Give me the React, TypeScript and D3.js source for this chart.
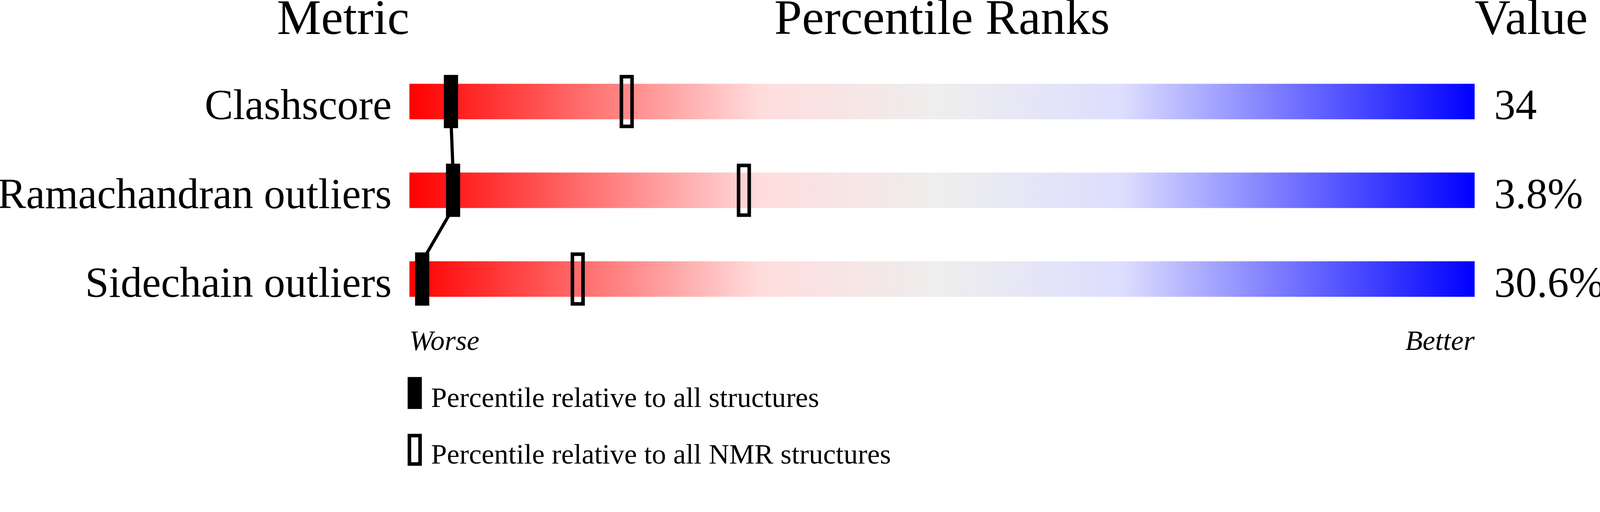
import React, { useEffect, useRef } from 'react';
import * as d3 from 'd3';

const metrics = ['Clashscore', 'Ramachandran outliers', 'Sidechain outliers'];
const percentileAll = [3.9, 4.1, 1.2];
const percentileNMR = [20.4, 31.4, 15.8];
const valueLabels = ['34', '3.8%', '30.6%'];

const legendLabels = [
  'Percentile relative to all structures',
  'Percentile relative to all NMR structures',
];

const gradientStops = [
  { offset: 0, color: '#ff0000' },
  { offset: 0.33, color: '#ffdddd' },
  { offset: 0.5, color: '#eeeeee' },
  { offset: 0.67, color: '#ddddff' },
  { offset: 1, color: '#0000ff' },
];

const WIDTH = 4506;
const HEIGHT = 1311;
const FONT = '"Liberation Serif", "Times New Roman", Times, serif';

const PercentileSlider: React.FC = () => {
  const svgRef = useRef<SVGSVGElement | null>(null);

  useEffect(() => {
    const svg = d3.select(svgRef.current);
    svg.selectAll('*').remove();

    const x = d3.scaleLinear().domain([0, 100]).range([1153, 4153]);
    const y = d3.scalePoint<string>().domain(metrics).range([286, 786]);

    const barH = 100;
    const markW = 40;
    const markH = 150;
    const stroke = 10;

    // gradient for bars
    const grad = svg.append('defs')
      .append('linearGradient')
      .attr('id', 'rank-grad')
      .attr('x1', '0').attr('x2', '1')
      .attr('y1', '0').attr('y2', '0');
    grad.selectAll('stop')
      .data(gradientStops)
      .join('stop')
      .attr('offset', d => d.offset)
      .attr('stop-color', d => d.color);

    const g = svg.append('g').style('font-family', FONT).attr('fill', '#000');

    // Column headers
    g.append('text')
      .attr('x', x(0)).attr('y', 96)
      .attr('text-anchor', 'end')
      .style('font-size', '140px')
      .text('Metric');
    g.append('text')
      .attr('x', (x(0) + x(100)) / 2).attr('y', 96)
      .attr('text-anchor', 'middle')
      .style('font-size', '140px')
      .text('Percentile Ranks');
    g.append('text')
      .attr('x', x(100)).attr('y', 96)
      .attr('text-anchor', 'start')
      .style('font-size', '140px')
      .text('Value');

    // Bars
    g.selectAll('.bar')
      .data(metrics)
      .join('rect')
      .attr('class', 'bar')
      .attr('x', x(0))
      .attr('y', d => y(d)! - barH / 2)
      .attr('width', x(100) - x(0))
      .attr('height', barH)
      .attr('fill', 'url(#rank-grad)');

    // Metric labels
    g.selectAll('.label')
      .data(metrics)
      .join('text')
      .attr('class', 'label')
      .attr('x', x(0) - 50)
      .attr('y', d => y(d)! + barH / 2)
      .attr('text-anchor', 'end')
      .style('font-size', '120px')
      .text(d => d);

    // Values
    g.selectAll('.value')
      .data(valueLabels)
      .join('text')
      .attr('class', 'value')
      .attr('x', x(100) + 55)
      .attr('y', (d, i) => y(metrics[i])! + barH / 2)
      .attr('text-anchor', 'start')
      .style('font-size', '120px')
      .text(d => d);

    // connecting line between "all structures" markers
    const links = d3.pairs(metrics.map((m, i) => ({ m, p: percentileAll[i] })));
    g.selectAll('.link')
      .data(links)
      .join('line')
      .attr('class', 'link')
      .attr('x1', d => x(d[0].p))
      .attr('y1', d => y(d[0].m)! + barH / 2)
      .attr('x2', d => x(d[1].p))
      .attr('y2', d => y(d[1].m)! - barH / 2)
      .attr('stroke', '#000')
      .attr('stroke-width', 9);

    // NMR markers (open)
    g.selectAll('.nmr')
      .data(metrics)
      .join('rect')
      .attr('class', 'nmr')
      .attr('x', (d, i) => x(percentileNMR[i]) - markW / 2 + stroke / 2)
      .attr('y', d => y(d)! - markH / 2 + stroke / 2)
      .attr('width', markW - stroke)
      .attr('height', markH - stroke)
      .attr('fill', 'none')
      .attr('stroke', '#000')
      .attr('stroke-width', stroke);

    // All-structures markers (filled)
    g.selectAll('.all')
      .data(metrics)
      .join('rect')
      .attr('class', 'all')
      .attr('x', (d, i) => x(percentileAll[i]) - markW / 2)
      .attr('y', d => y(d)! - markH / 2)
      .attr('width', markW)
      .attr('height', markH)
      .attr('fill', '#000');

    // Worse / Better
    g.append('text')
      .attr('x', x(0)).attr('y', 986)
      .attr('text-anchor', 'start')
      .style('font-size', '80px')
      .style('font-style', 'italic')
      .text('Worse');
    g.append('text')
      .attr('x', x(100)).attr('y', 986)
      .attr('text-anchor', 'end')
      .style('font-size', '80px')
      .style('font-style', 'italic')
      .text('Better');

    // Legend
    const legendY = (i: number) => 1062 + i * 160;
    const legend = g.selectAll('.legend')
      .data(legendLabels)
      .join('g')
      .attr('class', 'legend')
      .attr('transform', (d, i) => `translate(${x(0) - 5},${legendY(i)})`);
    legend.append('rect')
      .attr('x', (d, i) => (i === 0 ? 0 : stroke / 2))
      .attr('y', (d, i) => (i === 0 ? 0 : stroke / 2))
      .attr('width', (d, i) => (i === 0 ? markW : markW - stroke))
      .attr('height', (d, i) => (i === 0 ? 90 : 90 - stroke))
      .attr('fill', (d, i) => (i === 0 ? '#000' : 'none'))
      .attr('stroke', (d, i) => (i === 0 ? 'none' : '#000'))
      .attr('stroke-width', stroke);
    legend.append('text')
      .attr('x', 66)
      .attr('y', 84)
      .style('font-size', '80px')
      .text(d => d);
  }, []);

  return (
    <svg
      ref={svgRef}
      viewBox={`0 0 ${WIDTH} ${HEIGHT}`}
      preserveAspectRatio="xMinYMin meet"
      style={{ position: 'absolute', left: 0, top: 0, width: '100vw', height: '100vh', display: 'block', background: '#fff' }}
    />
  );
};

export default function App() {
  return <PercentileSlider />;
}
